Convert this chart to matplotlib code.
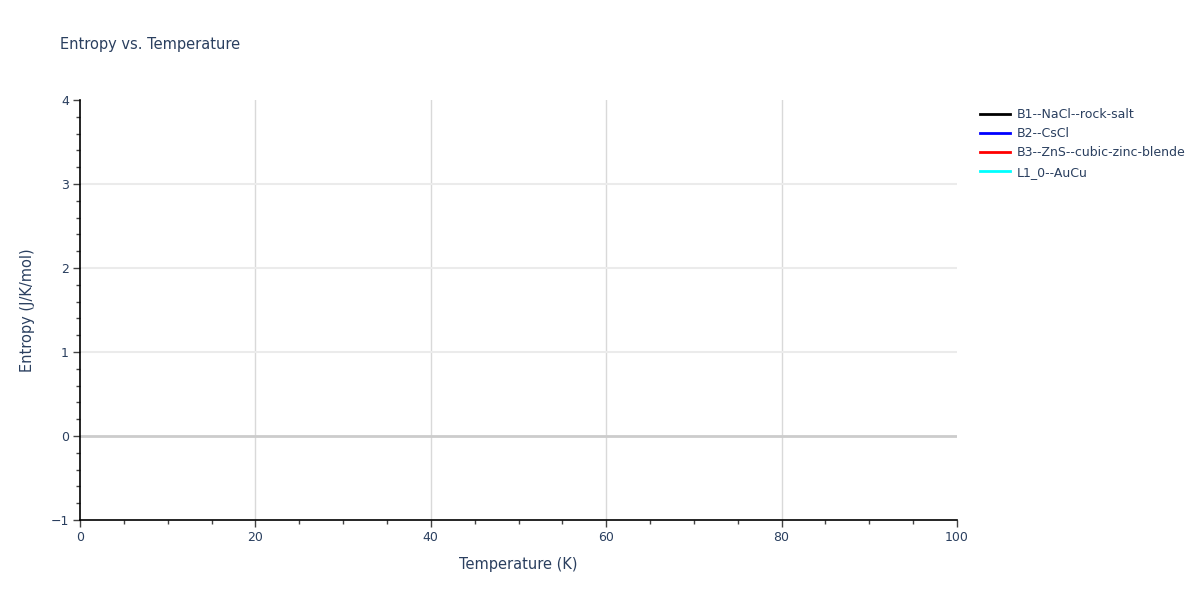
import matplotlib
matplotlib.use("Agg")
import matplotlib.pyplot as plt
from matplotlib.ticker import MultipleLocator

# series names and colours from the legend; the traces hold no visible points
names = ["B1--NaCl--rock-salt", "B2--CsCl", "B3--ZnS--cubic-zinc-blende", "L1_0--AuCu"]
colors = ["black", "blue", "red", "cyan"]
temperature = [[], [], [], []]
entropy = [[], [], [], []]

txt = "#2a3f5f"
plt.rcParams["font.family"] = ["DejaVu Sans"]

fig = plt.figure(figsize=(12, 6), dpi=100)
ax = fig.add_axes([80 / 1200, 1 - 520 / 600, 877 / 1200, 420 / 600])

for t, s, n, c in zip(temperature, entropy, names, colors):
    ax.plot(t, s, color=c, lw=2, label=n)

ax.set_xlim(0, 100)
ax.set_ylim(-1, 4)
ax.xaxis.set_major_locator(MultipleLocator(20))
ax.xaxis.set_minor_locator(MultipleLocator(5))
ax.yaxis.set_major_locator(MultipleLocator(1))
ax.yaxis.set_minor_locator(MultipleLocator(0.2))

# grid only on the inner ticks, like plotly
for x in [20, 40, 60, 80]:
    ax.axvline(x, color="#d9d9d9", lw=1, zorder=0)
for y in [1, 2, 3]:
    ax.axhline(y, color="#ebebeb", lw=1.5, zorder=0)
ax.axhline(0, color="#cccccc", lw=2, zorder=1)

for side in ["top", "right"]:
    ax.spines[side].set_visible(False)
for side in ["left", "bottom"]:
    ax.spines[side].set_color("black")
    ax.spines[side].set_linewidth(1.2)

ax.tick_params(which="major", direction="out", length=5, width=1, colors="#444444",
               labelcolor=txt, labelsize=9, pad=3)
ax.tick_params(which="minor", direction="out", length=3, width=1, colors="#444444")
ax.set_yticks([-1, 0, 1, 2, 3, 4])
ax.set_yticklabels(["\u22121", "0", "1", "2", "3", "4"])

ax.set_xlabel("Temperature (K)", color=txt, fontsize=10.5, labelpad=9)
ax.set_ylabel("Entropy (J/K/mol)", color=txt, fontsize=10.5, labelpad=11)
fig.text(60 / 1200, 1 - 45 / 600, "Entropy vs. Temperature", color=txt, fontsize=10.5,
         va="center", ha="left")

leg = fig.legend(loc="upper left", bbox_to_anchor=(975 / 1200, 1 - 103 / 600),
                 frameon=False, fontsize=9, handlelength=2.4, handletextpad=0.5,
                 labelspacing=0.5, borderaxespad=0)
for t in leg.get_texts():
    t.set_color(txt)

fig.savefig("out.png", dpi=100)
